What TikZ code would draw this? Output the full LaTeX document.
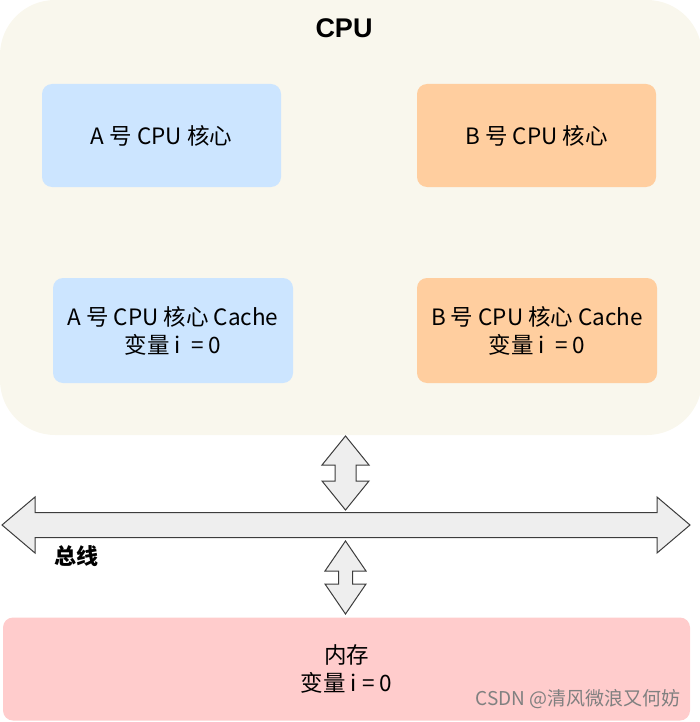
\documentclass[tikz,border=0pt]{standalone}
\usepackage{fontspec}
\setmainfont{Noto Sans CJK SC}
\newfontfamily\titlefont{Liberation Sans}
\usetikzlibrary{positioning,calc}
\definecolor{cpubg}{HTML}{F9F7ED}
\definecolor{corea}{HTML}{CCE5FF}
\definecolor{coreb}{HTML}{FFCE9F}
\definecolor{membg}{HTML}{FFCCCC}
\definecolor{arrowfill}{HTML}{EEEEEE}
\definecolor{arrowline}{HTML}{3C3C3C}

% double headed block arrows: #1 tip, #2 tip, #3 half shaft, #4 half head, #5 head length
\newcommand{\blockV}[5]{%
  \draw[blockarrow] let \p1=(#1), \p2=(#2) in
    (\x1,\y1) -- (\x1+#4,\y1-#5) -- (\x1+#3,\y1-#5) -- (\x1+#3,\y2+#5) -- (\x1+#4,\y2+#5)
    -- (\x1,\y2) -- (\x1-#4,\y2+#5) -- (\x1-#3,\y2+#5) -- (\x1-#3,\y1-#5) -- (\x1-#4,\y1-#5) -- cycle;}
\newcommand{\blockH}[5]{%
  \draw[blockarrow] let \p1=(#1), \p2=(#2) in
    (\x1,\y1) -- (\x1+#5,\y1+#4) -- (\x1+#5,\y1+#3) -- (\x2-#5,\y1+#3) -- (\x2-#5,\y1+#4)
    -- (\x2,\y1) -- (\x2-#5,\y1-#4) -- (\x2-#5,\y1-#3) -- (\x1+#5,\y1-#3) -- (\x1+#5,\y1-#4) -- cycle;}

\begin{document}
\begin{tikzpicture}[x=1pt, y=-1pt,
    box/.style={rounded corners=10pt, inner sep=0pt, align=center,
        font=\fontsize{22.5}{28}\selectfont},
    blockarrow/.style={fill=arrowfill, draw=arrowline, line width=1pt, line join=miter}]
    \useasboundingbox (0,0) rectangle (699,722);

    % CPU
    \node[box, rounded corners=55pt, fill=cpubg, minimum width=702pt, minimum height=435pt] (cpu) at (351,217.5) {};
    \node[font=\titlefont\bfseries\fontsize{27}{30}\selectfont] (cputitle) at (344,28) {CPU};
    \node[box, fill=corea, minimum width=239pt, minimum height=103pt] (coreA) at (161.5,135.5) {A 号 CPU 核心};
    \node[box, fill=coreb, minimum width=239pt, minimum height=103pt] (coreB) at (536.5,135.5) {B 号 CPU 核心};
    \node[box, fill=corea, minimum width=240pt, minimum height=105pt] (cacheA) at (173,330.5) {A 号 CPU 核心 Cache\\变量 i \ = 0};
    \node[box, fill=coreb, minimum width=240pt, minimum height=105pt] (cacheB) at (537,330.5) {B 号 CPU 核心 Cache\\变量 i \ = 0};

    % bus
    \coordinate (busL) at (2,525);
    \coordinate (busR) at (690,525);
    \blockH{busL}{busR}{12.5pt}{28pt}{33pt}
    \node[font=\bfseries\fontsize{22}{26}\selectfont] (buslabel) at (76,556) {总线};

    % memory
    \node[box, fill=membg, minimum width=687pt, minimum height=103pt] (mem) at (346.5,669) {内存\\变量 i = 0};
    \node[text=gray, font=\fontsize{19}{22}\selectfont] (mark) at (578,699) {CSDN @清风微浪又何妨};

    % links to the bus
    \coordinate (upTop) at (345.5,436);
    \coordinate (upBot) at (345.5,510);
    \coordinate (lowTop) at (345.5,541);
    \coordinate (lowBot) at (345.5,614);
    \blockV{upTop}{upBot}{10.5pt}{23.5pt}{29pt}
    \blockV{lowTop}{lowBot}{7pt}{20.5pt}{30pt}
\end{tikzpicture}
\end{document}
